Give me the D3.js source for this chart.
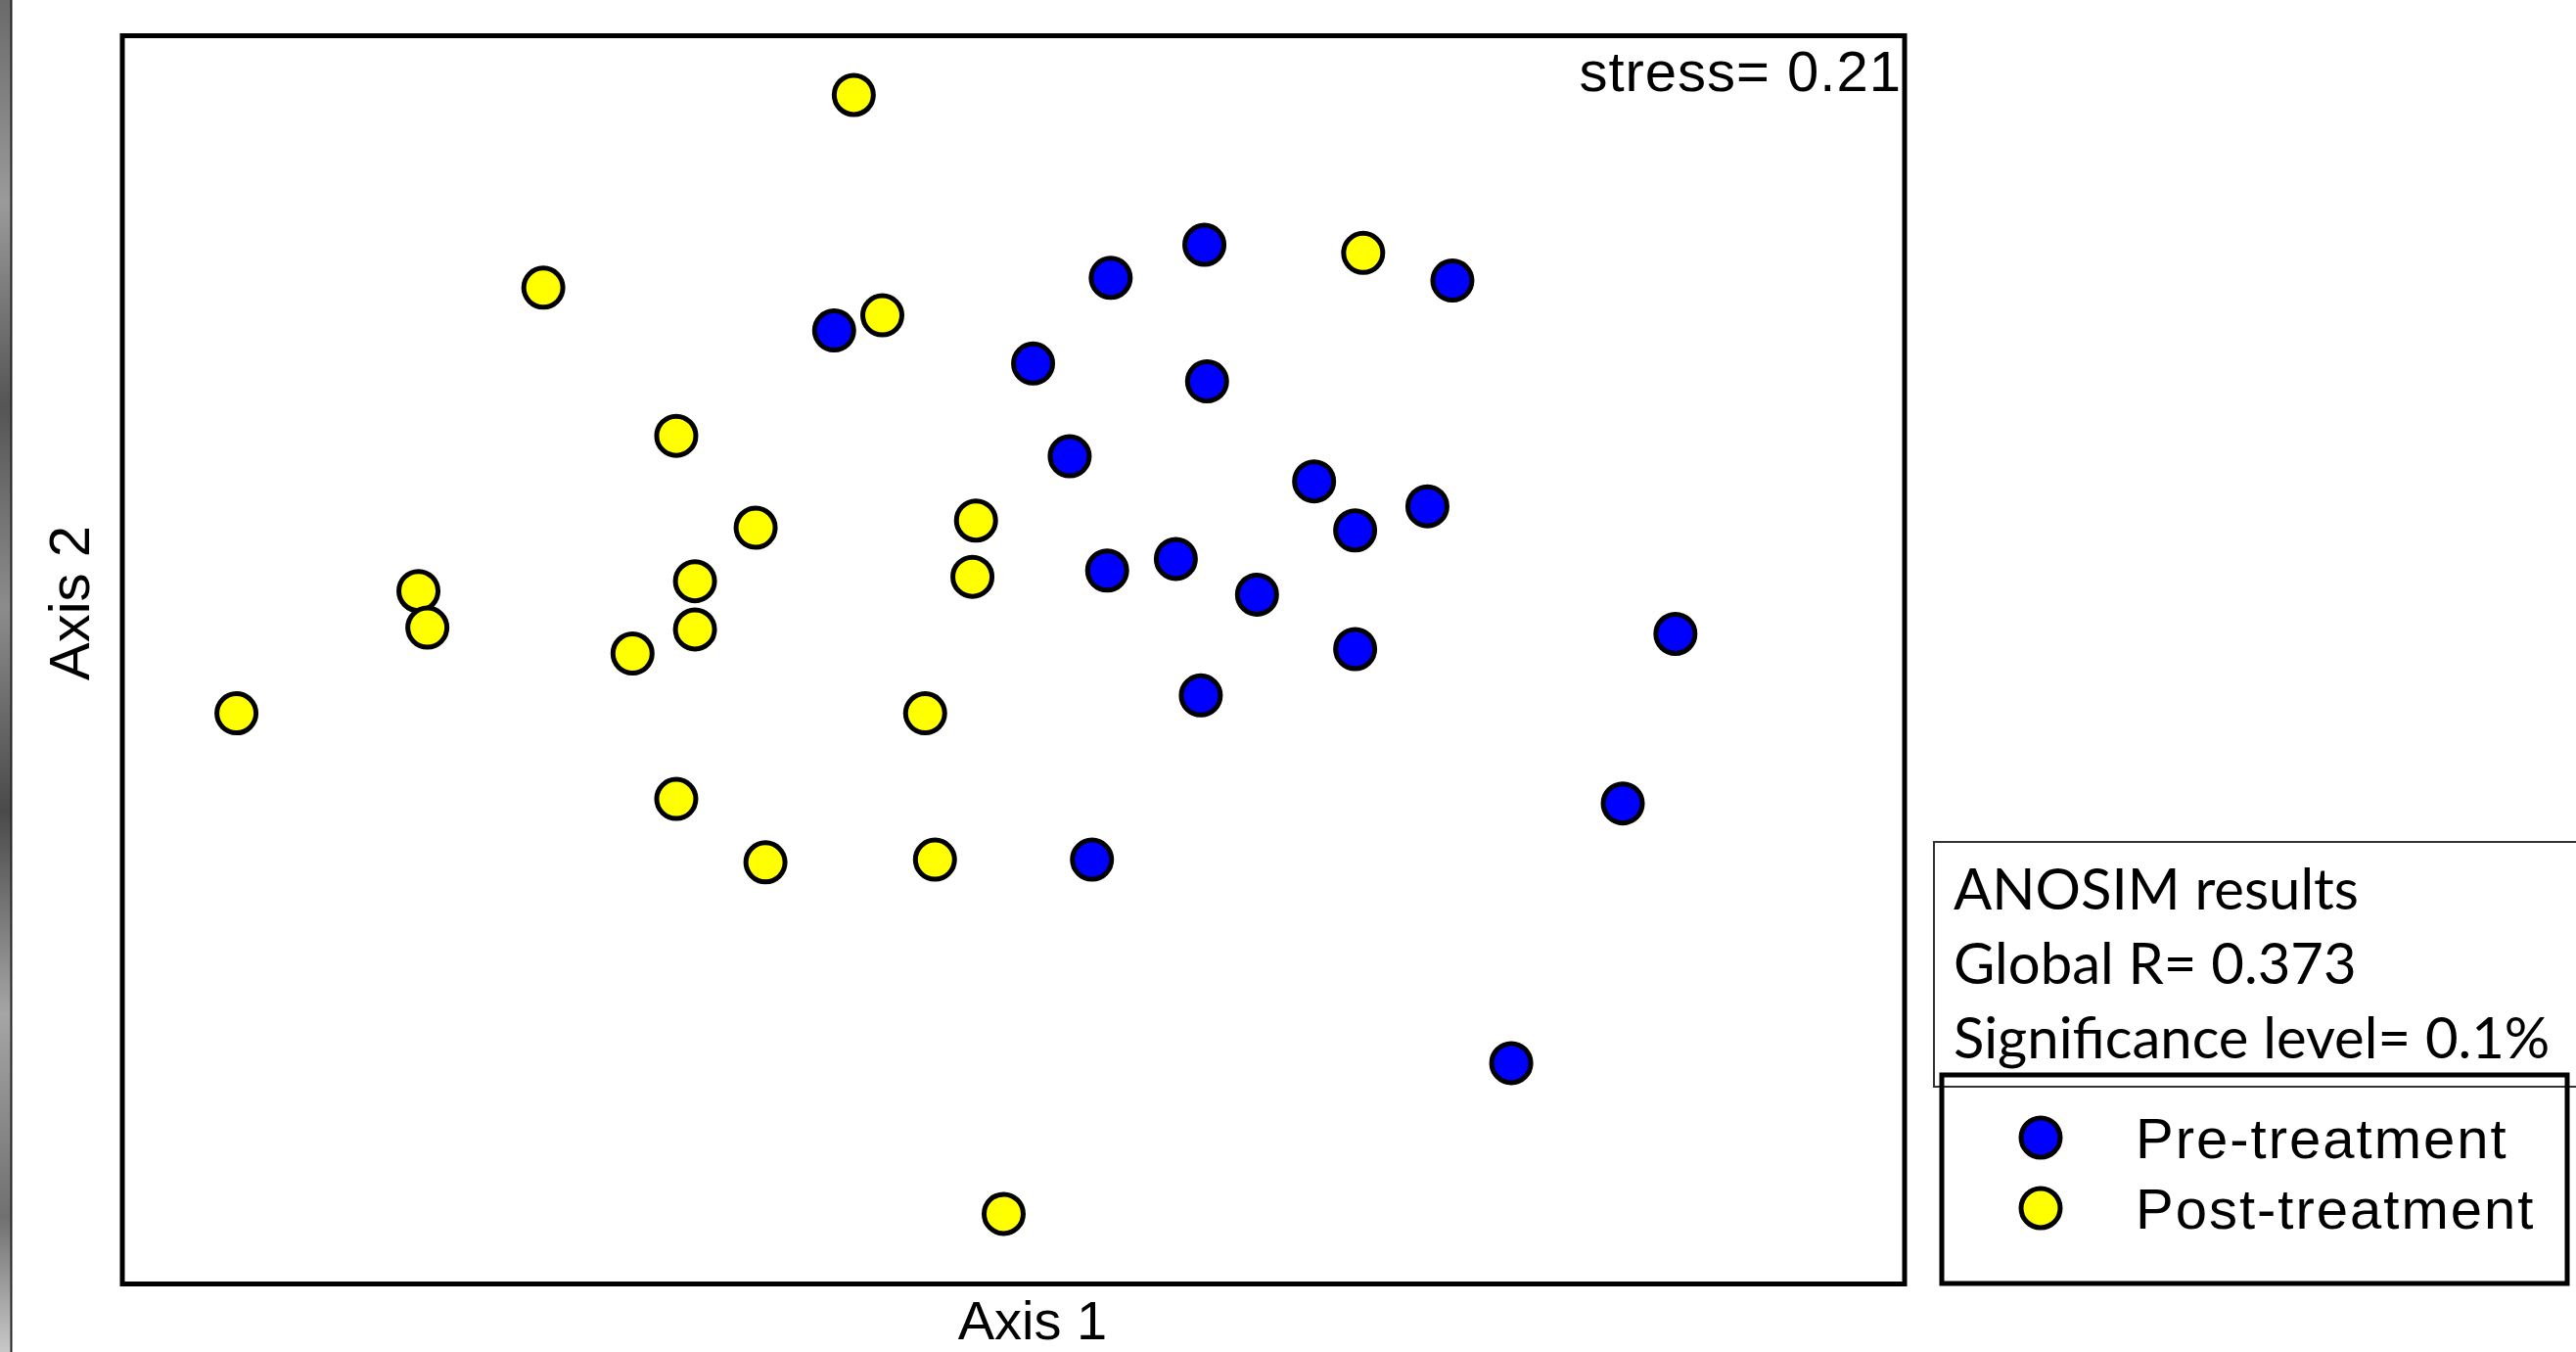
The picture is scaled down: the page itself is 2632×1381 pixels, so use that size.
<!DOCTYPE html>
<html lang="en">
<head>
    <meta charset="UTF-8">
    <title>NMDS ordination - ANOSIM</title>
    <style>
        html, body { margin: 0; padding: 0; background: #ffffff; }
        svg { display: block; }
        .plot-text { font-family: "Liberation Sans", Arial, sans-serif; fill: #000; }
        .stats-text { font-family: Lato, "Noto Sans", sans-serif; fill: #000; }
    </style>
</head>
<body>
    <svg id="chart" width="2632" height="1381"></svg>

    <script src="https://d3js.org/d3.v7.min.js"></script>
    <script>
        // NMDS scores (arbitrary ordination units)
        const preX  = [0.214, 0.109, 0.492, -0.201, 0.022, 0.217, 0.063, 0.337, 0.464, 0.383,
                       0.105, 0.182, 0.273, 0.383, 0.742, 0.210, 0.683, 0.088, 0.558];
        const preY  = [0.464, 0.427, 0.424, 0.368, 0.331, 0.311, 0.227, 0.199, 0.171, 0.144,
                       0.099, 0.112, 0.072, 0.011, 0.028, -0.041, -0.162, -0.225, -0.453];
        const postX = [-0.179, -0.527, -0.147, 0.392, -0.378, -0.289, -0.042, -0.667, -0.657, -0.357,
                       -0.357, -0.046, -0.427, -0.871, -0.099, -0.378, -0.278, -0.088, -0.011];
        const postY = [0.632, 0.416, 0.385, 0.455, 0.250, 0.147, 0.155, 0.076, 0.035, 0.087,
                       0.033, 0.092, 0.006, -0.061, -0.061, -0.157, -0.228, -0.225, -0.622];

        const groups = ["Pre-treatment", "Post-treatment"];
        const groupColors = ["#0000ff", "#ffff00"];
        const stressLabel = "stress= 0.21";
        const axisLabels = ["Axis 1", "Axis 2"];
        const anosimLines = ["ANOSIM results", "Global R= 0.373", "Significance level= 0.1%"];

        const svg = d3.select("#chart");

        // plot frame in page pixels
        const frame = {left: 124, right: 1947, top: 35, bottom: 1311};

        const x = d3.scaleLinear().domain([-1, 1]).range([frame.left, frame.right]);
        const y = d3.scaleLinear().domain([-0.7, 0.7]).range([frame.bottom, frame.top]);

        // scanned edge strip on the far left
        const grad = svg.append("defs").append("linearGradient")
            .attr("id", "edge").attr("x1", 0).attr("x2", 0).attr("y1", 0).attr("y2", 1);
        [["0", "#6a6a6a"], ["0.15", "#9a9a9a"], ["0.3", "#555"], ["0.45", "#8c8c8c"],
         ["0.6", "#4a4a4a"], ["0.75", "#a5a5a5"], ["0.9", "#707070"], ["1", "#c8c8c8"]]
            .forEach(s => grad.append("stop").attr("offset", s[0]).attr("stop-color", s[1]));
        svg.append("rect").attr("x", 0).attr("y", 0).attr("width", 11).attr("height", 1381)
            .attr("fill", "url(#edge)");
        svg.append("line").attr("x1", 11.5).attr("x2", 11.5).attr("y1", 0).attr("y2", 1381)
            .attr("stroke", "#222").attr("stroke-width", 2);

        // points
        const pts = [];
        postX.forEach((v, i) => pts.push({x: v, y: postY[i], g: 1}));
        preX.forEach((v, i) => pts.push({x: v, y: preY[i], g: 0}));

        svg.append("g")
            .selectAll("circle")
            .data(pts)
            .join("circle")
            .attr("cx", d => x(d.x))
            .attr("cy", d => y(d.y))
            .attr("r", 20)
            .attr("fill", d => groupColors[d.g])
            .attr("stroke", "#000")
            .attr("stroke-width", 5);

        // frame
        svg.append("rect")
            .attr("x", x(-1) + 1).attr("y", y(0.7) + 1.5)
            .attr("width", x(1) - x(-1) - 2).attr("height", y(-0.7) - y(0.7) - 1)
            .attr("fill", "none").attr("stroke", "#000").attr("stroke-width", 5);

        svg.append("text").attr("class", "plot-text")
            .attr("x", frame.right - 4).attr("y", 93)
            .attr("text-anchor", "end").attr("font-size", 58).attr("letter-spacing", 1)
            .text(stressLabel);

        svg.append("text").attr("class", "plot-text")
            .attr("x", 1055).attr("y", 1368)
            .attr("text-anchor", "middle").attr("font-size", 56)
            .text(axisLabels[0]);

        svg.append("text").attr("class", "plot-text")
            .attr("transform", "translate(91,616) rotate(-90)")
            .attr("text-anchor", "middle").attr("font-size", 58)
            .text(axisLabels[1]);

        // ANOSIM box
        svg.append("rect")
            .attr("x", 1976).attr("y", 860).attr("width", 700).attr("height", 250)
            .attr("fill", "#fff").attr("stroke", "#333").attr("stroke-width", 2);

        svg.append("g").selectAll("text")
            .data(anosimLines)
            .join("text").attr("class", "stats-text")
            .attr("x", 1996)
            .attr("y", (d, i) => 929 + i * 76)
            .attr("font-size", 58)
            .text(d => d);

        // legend
        const lg = svg.append("g");
        lg.append("rect")
            .attr("x", 1984).attr("y", 1098).attr("width", 639).attr("height", 213)
            .attr("fill", "none").attr("stroke", "#000").attr("stroke-width", 5);

        const items = lg.selectAll("g.item")
            .data(groups)
            .join("g").attr("class", "item")
            .attr("transform", (d, i) => `translate(2085,${1162 + i * 72})`);
        items.append("circle")
            .attr("r", 20)
            .attr("fill", (d, i) => groupColors[i])
            .attr("stroke", "#000").attr("stroke-width", 5);
        items.append("text").attr("class", "plot-text")
            .attr("x", 97).attr("y", 21)
            .attr("font-size", 58).attr("letter-spacing", 2)
            .text(d => d);
    </script>
</body>
</html>
